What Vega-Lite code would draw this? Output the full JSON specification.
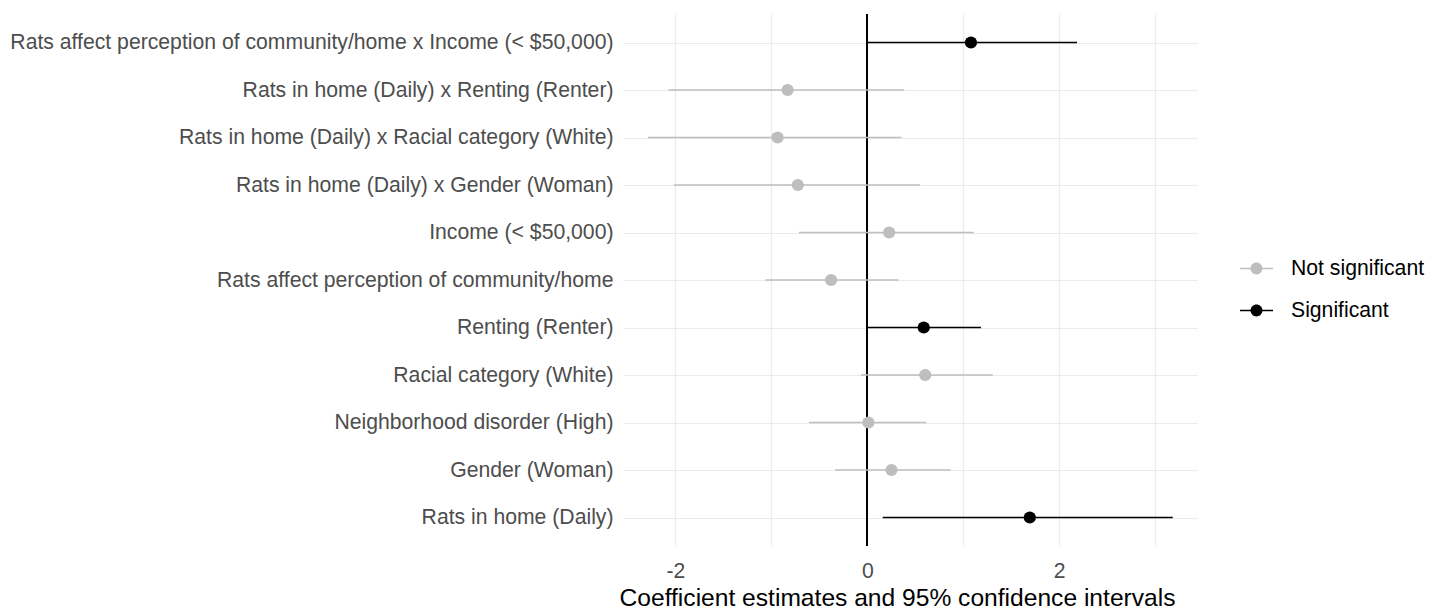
{
  "$schema": "https://vega.github.io/schema/vega-lite/v6.json",
  "autosize": "none",
  "width": 574,
  "height": 532,
  "padding": {"left": 623, "top": 14, "right": 245, "bottom": 64},
  "background": "white",
  "config": {
    "font": "Liberation Sans",
    "view": {"stroke": null}
  },
  "data": {
    "values": [
      {"term": "Rats affect perception of community/home x Income (< $50,000)", "est": 1.08, "low": 0.0, "high": 2.185, "sig": "Significant"},
      {"term": "Rats in home (Daily) x Renting (Renter)", "est": -0.83, "low": -2.07, "high": 0.385, "sig": "Not significant"},
      {"term": "Rats in home (Daily) x Racial category (White)", "est": -0.935, "low": -2.285, "high": 0.356, "sig": "Not significant"},
      {"term": "Rats in home (Daily) x Gender (Woman)", "est": -0.724, "low": -2.016, "high": 0.55, "sig": "Not significant"},
      {"term": "Income (< $50,000)", "est": 0.228, "low": -0.712, "high": 1.109, "sig": "Not significant"},
      {"term": "Rats affect perception of community/home", "est": -0.377, "low": -1.06, "high": 0.323, "sig": "Not significant"},
      {"term": "Renting (Renter)", "est": 0.588, "low": 0.0, "high": 1.184, "sig": "Significant"},
      {"term": "Racial category (White)", "est": 0.604, "low": -0.066, "high": 1.308, "sig": "Not significant"},
      {"term": "Neighborhood disorder (High)", "est": 0.012, "low": -0.608, "high": 0.613, "sig": "Not significant"},
      {"term": "Gender (Woman)", "est": 0.252, "low": -0.335, "high": 0.869, "sig": "Not significant"},
      {"term": "Rats in home (Daily)", "est": 1.693, "low": 0.161, "high": 3.183, "sig": "Significant"}
    ]
  },
  "encoding": {
    "y": {
      "field": "term",
      "type": "nominal",
      "sort": null,
      "scale": {"type": "point", "padding": 0.6},
      "axis": {
        "title": null,
        "domain": false,
        "ticks": false,
        "grid": true,
        "gridColor": "#ebebeb",
        "gridWidth": 1.2,
        "labelFontSize": 21.2,
        "labelColor": "#4d4d4d",
        "labelPadding": 10,
        "labelLimit": 700
      }
    }
  },
  "layer": [
    {
      "mark": {"type": "rule", "color": "black", "strokeWidth": 1.2},
      "encoding": {"x": {"datum": 0}, "y": null}
    },
    {
      "mark": {"type": "rule", "strokeWidth": 1.5},
      "encoding": {
        "x": {
          "field": "low",
          "type": "quantitative",
          "scale": {"domain": [-2.545, 3.435], "nice": false, "zero": false},
          "axis": {
            "title": "Coefficient estimates and 95% confidence intervals",
            "values": [-2, -1, 0, 1, 2, 3],
            "labelExpr": "datum.value % 2 === 0 ? '' + datum.value : ''",
            "domain": false,
            "ticks": false,
            "grid": true,
            "gridColor": "#ebebeb",
            "gridWidth": 1.2,
            "labelFontSize": 21.2,
            "labelColor": "#4d4d4d",
            "labelPadding": 14,
            "titleFontSize": 24.6,
            "titleFontWeight": "normal",
            "titleColor": "black",
            "titlePadding": 5,
            "titleX": 274,
            "titleAlign": "center"
          }
        },
        "x2": {"field": "high"},
        "color": {
          "field": "sig",
          "type": "nominal",
          "scale": {"domain": ["Not significant", "Significant"], "range": ["#bebebe", "black"]},
          "legend": {
            "title": null,
            "orient": "none",
            "legendX": 617,
            "legendY": 238,
            "symbolType": "M-1,-0.045H1V0.045H-1Z M-0.36,0 A0.36,0.36 0 1 1 0.36,0 A0.36,0.36 0 1 1 -0.36,0 Z",
            "symbolSize": 1089,
            "symbolOpacity": 1,
            "symbolStrokeWidth": 0,
            "labelFontSize": 21.2,
            "labelColor": "black",
            "labelOffset": 18,
            "rowPadding": 15
          }
        }
      }
    },
    {
      "mark": {"type": "point", "filled": true, "size": 150, "opacity": 1},
      "encoding": {
        "x": {"field": "est", "type": "quantitative"},
        "color": {"field": "sig", "type": "nominal"}
      }
    }
  ]
}
